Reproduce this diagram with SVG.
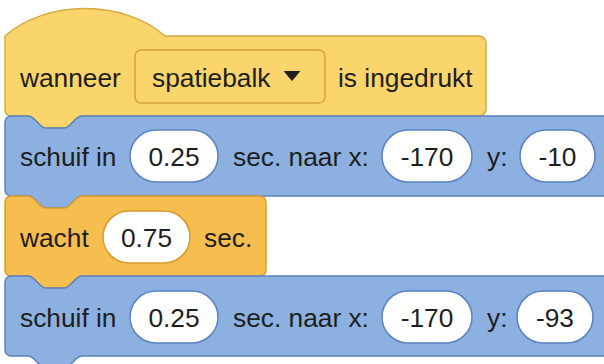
<svg xmlns="http://www.w3.org/2000/svg" width="604" height="364" viewBox="0 0 604 364">
<style>
text{font-family:"Liberation Sans",Arial,sans-serif;font-size:26.3px;fill:#1e1e1e}
.mid{text-anchor:middle}
.hat{fill:#F9D56B;stroke:#D6A840;stroke-width:1.5}
.dd{fill:#F9D56B;stroke:#D4A23A;stroke-width:1.5}
.motion{fill:#8CB0DF;stroke:#5A82BF;stroke-width:1.5}
.ctrl{fill:#F6BD4F;stroke:#D99A2E;stroke-width:1.5}
.inB{fill:#fff;stroke:#5A82BF;stroke-width:1.5}
.inC{fill:#fff;stroke:#D99A2E;stroke-width:1.5}
</style>
<rect width="604" height="364" fill="#fff"/>
<g id="hat">
<path class="hat" d="M5,36 c41.7,-36.7 118.3,-36.7 160,0 H479 a7,7 0 0 1 7,7 V109 a7,7 0 0 1 -7,7 H82 c-3,0 -4.5,1.5 -6,3 l-6,6 c-1.5,1.5 -3,3 -6,3 h-18 c-3,0 -4.5,-1.5 -6,-3 l-6,-6 c-1.5,-1.5 -3,-3 -6,-3 H11 a6,6 0 0 1 -6,-6 Z"/>
<text x="20" y="87">wanneer</text>
<rect class="dd" x="135" y="50" width="190" height="53" rx="6"/>
<text x="152" y="87">spatiebalk</text>
<path d="M284.5,71.5 h15 l-7.5,9 Z" fill="#1e1e1e" stroke="#1e1e1e" stroke-width="1" stroke-linejoin="round"/>
<text x="338" y="87">is ingedrukt</text>
</g>
<g id="glide1">
<path class="motion" d="M5,122 a6,6 0 0 1 6,-6 H28 c3,0 4.5,1.5 6,3 l6,6 c1.5,1.5 3,3 6,3 h18 c3,0 4.5,-1.5 6,-3 l6,-6 c1.5,-1.5 3,-3 6,-3 H620 V196 H82 c-3,0 -4.5,1.5 -6,3 l-6,6 c-1.5,1.5 -3,3 -6,3 h-18 c-3,0 -4.5,-1.5 -6,-3 l-6,-6 c-1.5,-1.5 -3,-3 -6,-3 H11 a6,6 0 0 1 -6,-6 Z"/>
<text x="20" y="166">schuif in</text>
<rect class="inB" x="130" y="130" width="88" height="52" rx="26"/>
<text class="mid" x="174" y="166">0.25</text>
<text x="233" y="166">sec. naar x:</text>
<rect class="inB" x="382" y="130" width="90" height="52" rx="26"/>
<text class="mid" x="427" y="166">-170</text>
<text x="487" y="166">y:</text>
<rect class="inB" x="520" y="130" width="75" height="52" rx="26"/>
<text class="mid" x="557.5" y="166">-10</text>
</g>
<g id="wait">
<path class="ctrl" d="M5,202 a6,6 0 0 1 6,-6 H28 c3,0 4.5,1.5 6,3 l6,6 c1.5,1.5 3,3 6,3 h18 c3,0 4.5,-1.5 6,-3 l6,-6 c1.5,-1.5 3,-3 6,-3 H260 a6,6 0 0 1 6,6 V270 a6,6 0 0 1 -6,6 H82 c-3,0 -4.5,1.5 -6,3 l-6,6 c-1.5,1.5 -3,3 -6,3 h-18 c-3,0 -4.5,-1.5 -6,-3 l-6,-6 c-1.5,-1.5 -3,-3 -6,-3 H11 a6,6 0 0 1 -6,-6 Z"/>
<text x="20" y="247">wacht</text>
<rect class="inC" x="103" y="211" width="87" height="52" rx="26"/>
<text class="mid" x="146.5" y="247">0.75</text>
<text x="204" y="247">sec.</text>
</g>
<g id="glide2">
<path class="motion" d="M5,282 a6,6 0 0 1 6,-6 H28 c3,0 4.5,1.5 6,3 l6,6 c1.5,1.5 3,3 6,3 h18 c3,0 4.5,-1.5 6,-3 l6,-6 c1.5,-1.5 3,-3 6,-3 H620 V356 H82 c-3,0 -4.5,1.5 -6,3 l-6,6 c-1.5,1.5 -3,3 -6,3 h-18 c-3,0 -4.5,-1.5 -6,-3 l-6,-6 c-1.5,-1.5 -3,-3 -6,-3 H11 a6,6 0 0 1 -6,-6 Z"/>
<text x="20" y="327">schuif in</text>
<rect class="inB" x="130" y="291" width="88" height="52" rx="26"/>
<text class="mid" x="174" y="327">0.25</text>
<text x="233" y="327">sec. naar x:</text>
<rect class="inB" x="382" y="291" width="90" height="52" rx="26"/>
<text class="mid" x="427" y="327">-170</text>
<text x="487" y="327">y:</text>
<rect class="inB" x="517" y="291" width="76" height="52" rx="26"/>
<text class="mid" x="555" y="327">-93</text>
</g>
<g id="connectors"/>
</svg>
